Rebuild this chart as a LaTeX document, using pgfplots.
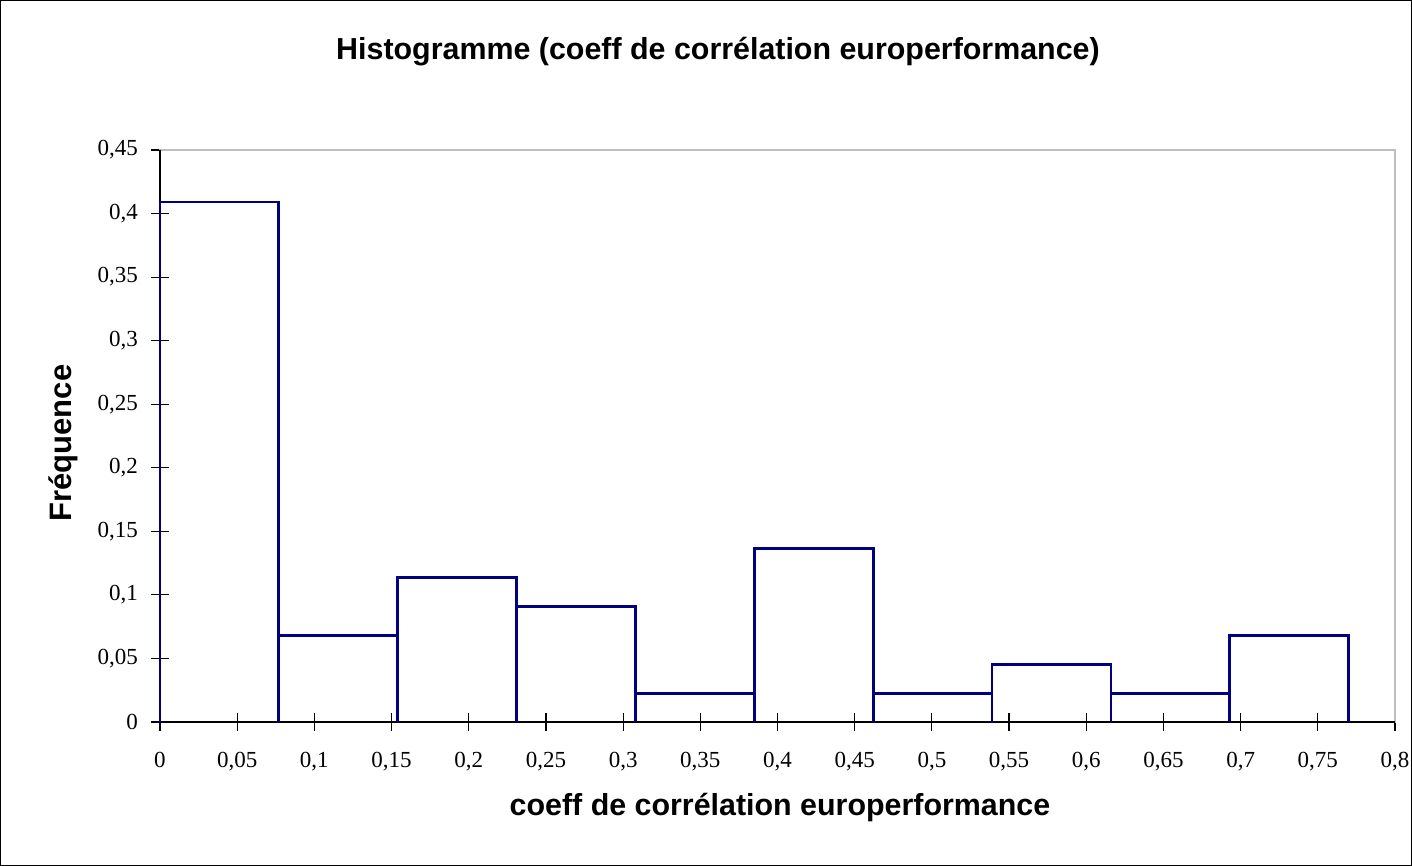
\documentclass[border=0pt]{standalone}
\usepackage{pgfplots}
\pgfplotsset{compat=1.18}
\usepackage{fontspec}
\setmainfont{Liberation Serif}
\newfontfamily\arial{Liberation Sans}
\definecolor{barblue}{RGB}{0,0,128}
\begin{document}
\begin{tikzpicture}
\useasboundingbox (-80pt,-72pt) rectangle (626pt,361pt);
\draw[line width=0.6pt] (-79.6pt,-71.6pt) rectangle (625.6pt,360.6pt);
\begin{axis}[at={(0,0)}, anchor=south west, scale only axis,
  width=617.5pt, height=286pt,
  xmin=0, xmax=0.8, ymin=0, ymax=0.45,
  xtick={0,0.05,0.1,0.15,0.2,0.25,0.3,0.35,0.4,0.45,0.5,0.55,0.6,0.65,0.7,0.75,0.8},
  ytick={0,0.05,0.1,0.15,0.2,0.25,0.3,0.35,0.4,0.45},
  xtick pos=bottom, ytick pos=left,
  tick align=center, major tick length=9pt,
  tick style={black, line width=0.6pt},
  axis line style={gray!50, line width=0.6pt},
  scaled ticks=false,
  /pgf/number format/.cd, use comma, fixed, precision=2, assume math mode=true,
  /pgfplots/.cd,
  ticklabel style={font=\fontsize{11.5}{13}\selectfont},
  xticklabel style={yshift=-7pt},
  yticklabel style={xshift=-3pt},
  clip=false]
\draw[black, line width=0.75pt] (rel axis cs:0,1) -- (rel axis cs:0,0) -- (rel axis cs:1,0);
\addplot[barblue, line width=1.4pt, line join=miter, mark=none] coordinates {
(0,0)(0,0.4091)(0.077,0.4091)(0.077,0)
(0.077,0.0682)(0.154,0.0682)(0.154,0)
(0.154,0.1136)(0.231,0.1136)(0.231,0)
(0.231,0.0909)(0.308,0.0909)(0.308,0)
(0.308,0.0227)(0.385,0.0227)(0.385,0)
(0.385,0.1364)(0.462,0.1364)(0.462,0)
(0.462,0.0227)(0.539,0.0227)(0.539,0)
(0.539,0.0455)(0.616,0.0455)(0.616,0)
(0.616,0.0227)(0.693,0.0227)(0.693,0)
(0.693,0.0682)(0.770,0.0682)(0.770,0)
};
\end{axis}
\node[font=\arial\bfseries\fontsize{15.2}{17}\selectfont] at (279pt,335pt) {Histogramme (coeff de corrélation europerformance)};
\node[font=\arial\bfseries\fontsize{15.2}{17}\selectfont] at (310pt,-43pt) {coeff de corrélation europerformance};
\node[font=\arial\bfseries\fontsize{15.5}{17}\selectfont, rotate=90] at (-48.5pt,139.5pt) {Fréquence};
\end{tikzpicture}
\end{document}
